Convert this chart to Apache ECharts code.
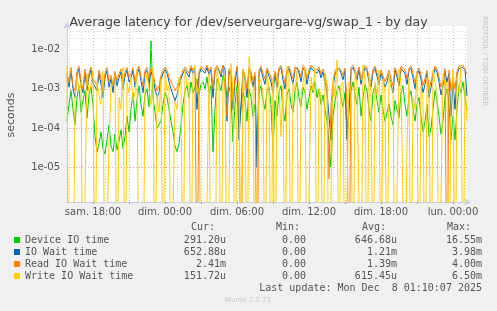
<!DOCTYPE html>
<html>
<head>
<meta charset="utf-8">
<script src="https://cdn.jsdelivr.net/npm/echarts@6/dist/echarts.min.js"></script>
<style>
html, body { margin: 0; padding: 0; background: #f0f0f0; }
#main { width: 497px; height: 311px; }
</style>
</head>
<body>
<div id="main"></div>
<script>
// one sample every 10 minutes, sam. 15:50 -> lun. 01:10 (minutes from sam. 00:00)
var startMinute = 950;
var stepMinutes = 10;

// values in microseconds, 0 = no latency
var deviceIO = [
  150, 400, 900, 300, 120, 600, 1200, 250, 500, 900, 180, 700, 1100, 400,
  60, 25, 40, 80, 30, 22, 50, 120, 35, 25, 70, 28, 45, 90, 30, 60, 200, 80,
  300, 800, 150, 500, 1200, 400, 200, 700, 1000, 350, 16550, 600, 250, 100, 90, 150, 400, 800,
  600, 300, 150, 80, 35, 25, 40, 120, 400, 900, 1200, 600, 1500, 800, 1100, 1800, 700, 1300,
  1500, 1000, 2000, 800, 1200, 25, 300, 1800, 1300, 900, 2200, 1500, 600, 1100, 700, 45, 400, 1200,
  100, 300, 800, 500, 150, 1000, 600, 200, 400, 20, 800, 1200, 500, 300, 900, 1100, 400, 25,
  500, 200, 800, 1200, 300, 150, 700, 1000, 400, 250, 900, 1500, 600, 350, 1100, 800, 300, 600,
  1200, 800, 1500, 600, 1000, 400, 700, 300, 150, 40, 10, 200, 500, 900, 1200, 600, 350, 800,
  60, 300, 900, 1500, 700, 400, 1100, 200, 600, 1300, 900, 300, 150, 800, 1200, 500, 250, 700,
  300, 150, 250, 400, 200, 120, 500, 300, 180, 800, 1200, 400, 200, 600, 900, 300, 150, 400,
  600, 200, 80, 150, 400, 60, 100, 300, 900, 500, 200, 70, 150, 600, 1000, 400, 50, 200,
  50, 300, 1200, 800, 1500, 600, 291.2
];
var ioWait = [
  2100, 1100, 2900, 1000, 600, 2300, 3300, 1200, 800, 2700, 900, 2000, 3100, 1400,
  1500, 900, 2500, 1300, 600, 2000, 2900, 1100, 1800, 800, 2300, 1200, 1900, 2700, 1000, 2100, 3000, 1500,
  1900, 3000, 1100, 2300, 3300, 1600, 800, 2500, 3000, 1400, 2700, 2000, 1000, 600, 800, 1700, 2500, 3100,
  2500, 1500, 1000, 700, 500, 700, 1200, 1800, 2500, 3100, 3300, 2000, 3400, 2500, 3000, 300, 2300, 3200,
  3000, 2500, 3500, 2300, 3100, 600, 2700, 3400, 3000, 2000, 3980, 3200, 150, 2800, 2100, 300, 1500, 3300,
  50, 400, 2700, 1700, 600, 3000, 2300, 1100, 2100, 10, 2500, 3300, 1900, 1300, 2900, 3100, 1500, 800,
  2300, 1100, 3000, 3500, 1700, 1000, 2700, 3300, 2100, 1300, 3100, 3500, 2500, 1500, 3400, 2900, 1300, 2500,
  3500, 3000, 3300, 2500, 3100, 1900, 2700, 1500, 800, 200, 50, 1100, 2300, 3000, 3400, 2500, 1700, 2900,
  50, 300, 3000, 3500, 2500, 1700, 3100, 1300, 2300, 3400, 2900, 1500, 1100, 2700, 3300, 2100, 1300, 2500,
  1700, 1100, 1500, 2500, 1300, 800, 3000, 2000, 1200, 3300, 3500, 2500, 1300, 2900, 3400, 1900, 1000, 2300,
  2900, 1700, 800, 1300, 2500, 600, 1100, 2100, 3300, 2700, 1500, 700, 1200, 2800, 1500, 2500, 200, 1500,
  300, 2300, 3300, 3000, 3500, 3100, 652.88
];
var readWait = [
  2500, 1500, 3500, 1200, 900, 2800, 3800, 1500, 1000, 3200, 1200, 2500, 3600, 1800,
  2000, 1200, 3000, 1800, 900, 2500, 3500, 1500, 2200, 1200, 2800, 1600, 2400, 3200, 1400, 2600, 3500, 2000,
  2400, 3500, 1500, 2800, 3800, 2000, 1200, 3000, 3500, 1800, 3200, 2500, 1400, 900, 1200, 2200, 3000, 3600,
  3000, 2000, 1500, 1200, 900, 1100, 1600, 2200, 3000, 3600, 3800, 2500, 3900, 3000, 3500, 0, 2800, 3700,
  3500, 3000, 4000, 2800, 3600, 1000, 3200, 3900, 3500, 2500, 4000, 3700, 200, 3300, 2600, 500, 2000, 3800,
  800, 0, 3200, 2200, 1000, 3500, 2800, 1500, 2600, 0, 3000, 3800, 2400, 1800, 3400, 3600, 2000, 1200,
  2800, 1500, 3500, 4000, 2200, 1400, 3200, 3800, 2600, 1800, 3600, 4000, 3000, 2000, 3900, 3400, 1800, 3000,
  4000, 3500, 3800, 3000, 3600, 2400, 3200, 2000, 1200, 5, 400, 1500, 2800, 3500, 3900, 3000, 2200, 3400,
  300, 0, 3500, 4000, 3000, 2200, 3600, 1800, 2800, 3900, 3400, 2000, 1500, 3200, 3800, 2600, 1800, 3000,
  2200, 1500, 2000, 3000, 1800, 1200, 3500, 2500, 1600, 3800, 4000, 3000, 1800, 3400, 3900, 2400, 1400, 2800,
  3400, 2200, 1200, 1800, 3000, 1000, 1500, 2600, 3800, 3200, 2000, 1100, 1600, 3300, 0, 3000, 900, 2000,
  1000, 2800, 3800, 3500, 4000, 3600, 2410
];
var writeWait = [
  3800, 0, 0, 0, 600, 2000, 900, 1500, 0, 0, 2500, 800, 1200, 3000,
  0, 1500, 700, 400, 2800, 0, 0, 40, 1200, 1200, 2200, 0, 600, 300, 3500, 0, 1400, 800,
  2000, 500, 800, 3200, 0, 0, 0, 1100, 2500, 1000, 400, 3500, 0, 700, 250, 1800, 0, 2800,
  900, 1200, 0, 0, 500, 300, 2000, 1500, 0, 3000, 1200, 1500, 0, 2500, 4000, 800, 1000, 0,
  0, 0, 0, 2500, 0, 0, 0, 3500, 1200, 0, 1500, 2200, 0, 0, 4500, 900, 0, 800,
  1500, 0, 3000, 1800, 0, 6500, 1400, 1200, 0, 0, 2000, 1500, 800, 0, 2500, 1100, 0, 1800,
  0, 2500, 1200, 60, 1200, 0, 3800, 2000, 0, 1500, 900, 2800, 0, 600, 1400, 3200, 0, 0,
  2000, 900, 3500, 0, 1000, 700, 0, 2500, 1300, 0, 0, 1800, 600, 5500, 0, 1200, 1500, 0,
  0, 1500, 900, 0, 2800, 1200, 1200, 0, 4000, 1600, 0, 2200, 800, 0, 1500, 700, 3000, 0,
  1800, 800, 0, 2500, 1100, 900, 0, 0, 3200, 1400, 1500, 0, 30, 2000, 0, 600, 300, 2500,
  0, 1200, 500, 0, 2000, 900, 0, 3000, 1500, 800, 0, 0, 2500, 1200, 1500, 0, 400, 3200,
  0, 2000, 800, 3500, 0, 1500, 151.72
];

var seriesNames = ['Device IO time', 'IO Wait time', 'Read IO Wait time', 'Write IO Wait time'];
var seriesColors = ['#00cc00', '#0066b3', '#ff8000', '#ffcc00'];
var curVals = ['291.20u', '652.88u', '2.41m', '151.72u'];
var minVals = ['0.00', '0.00', '0.00', '0.00'];
var avgVals = ['646.68u', '1.21m', '1.39m', '615.45u'];
var maxVals = ['16.55m', '3.98m', '4.00m', '6.50m'];

var tickMinutes = [1080, 1440, 1800, 2160, 2520, 2880];
var tickLabels = ['sam. 18:00', 'dim. 00:00', 'dim. 06:00', 'dim. 12:00', 'dim. 18:00', 'lun. 00:00'];

var chart = echarts.init(document.getElementById('main'), null, { renderer: 'canvas' });

var cats = [];
for (var i = 0; i < deviceIO.length; i++) {
  cats.push(String(startMinute + i * stepMinutes));
}

// seconds; zero is pushed far under the axis so the line drops to the bottom like rrdtool
function toSeconds(arr) {
  return arr.map(function (v) { return v === 0 ? 1e-9 : v / 1e6; });
}

var yMin = 1.3e-6, yMax = 4e-2;
var minorLines = [];
for (var d = -6; d <= -2; d++) {
  for (var k = 2; k <= 9; k++) {
    var v = k * Math.pow(10, d);
    if (v > yMin && v < yMax) minorLines.push({ yAxis: v });
  }
}

var mono = 'DejaVu Sans Mono';
var sans = 'DejaVu Sans';

var series = [{
  name: 'grid',
  type: 'line',
  data: [],
  z: 1,
  silent: true,
  markLine: {
    silent: true,
    symbol: 'none',
    label: { show: false },
    animation: false,
    lineStyle: { color: '#d4d4d4', type: [1, 2], width: 1 },
    data: minorLines
  }
}];
var raw = [deviceIO, ioWait, readWait, writeWait];
raw.forEach(function (arr, idx) {
  series.push({
    name: seriesNames[idx],
    type: 'line',
    data: toSeconds(arr),
    showSymbol: false,
    symbol: 'none',
    clip: true,
    z: 2 + idx,
    lineStyle: { width: 1, color: seriesColors[idx] },
    itemStyle: { color: seriesColors[idx] },
    animation: false
  });
});

var graphics = [
  {
    type: 'text', x: 11, y: 115, rotation: Math.PI / 2,
    style: { text: 'seconds', fill: '#555', font: '11px ' + sans, align: 'center', verticalAlign: 'middle' }
  },
  {
    type: 'text', x: 488, y: 16, rotation: -Math.PI / 2,
    style: { text: 'RRDTOOL / TOBI OETIKER', fill: '#c4c4c4', font: '7px ' + sans }
  },
  {
    type: 'text', x: 191, y: 227,
    style: { text: 'Cur:', fill: '#555', font: '10px ' + mono, verticalAlign: 'middle' }
  },
  {
    type: 'text', x: 276, y: 227,
    style: { text: 'Min:', fill: '#555', font: '10px ' + mono, verticalAlign: 'middle' }
  },
  {
    type: 'text', x: 362, y: 227,
    style: { text: 'Avg:', fill: '#555', font: '10px ' + mono, verticalAlign: 'middle' }
  },
  {
    type: 'text', x: 447, y: 227,
    style: { text: 'Max:', fill: '#555', font: '10px ' + mono, verticalAlign: 'middle' }
  },
  {
    type: 'text', x: 482, y: 288,
    style: { text: 'Last update: Mon Dec  8 01:10:07 2025', fill: '#555', font: '10px ' + mono, align: 'right', verticalAlign: 'middle' }
  },
  {
    type: 'text', x: 248, y: 300,
    style: { text: 'Munin 2.0.73', fill: '#c8c8c8', font: '7px ' + sans, align: 'center', verticalAlign: 'middle' }
  }
];

var rowY = [240, 252, 264, 276];
var colRight = [226, 306, 397, 482];
[curVals, minVals, avgVals, maxVals].forEach(function (col, c) {
  col.forEach(function (txt, r) {
    graphics.push({
      type: 'text', x: colRight[c], y: rowY[r],
      style: { text: txt, fill: '#555', font: '10px ' + mono, align: 'right', verticalAlign: 'middle' }
    });
  });
});

var option = {
  backgroundColor: '#f0f0f0',
  animation: false,
  title: {
    text: 'Average latency for /dev/serveurgare-vg/swap_1 - by day',
    left: 'center',
    top: 11,
    textStyle: { fontFamily: sans, fontSize: 12.5, fontWeight: 'normal', color: '#444' }
  },
  legend: {
    data: seriesNames,
    orient: 'vertical',
    left: 14,
    top: 234,
    padding: 0,
    itemGap: 0,
    itemWidth: 6,
    itemHeight: 6,
    icon: 'rect',
    selectedMode: false,
    textStyle: { fontFamily: mono, fontSize: 10, color: '#555', lineHeight: 12 }
  },
  grid: {
    left: 67, right: 30, top: 26, bottom: 109,
    show: true, backgroundColor: '#ffffff', borderWidth: 0
  },
  xAxis: [{
    type: 'category',
    data: cats,
    boundaryGap: false,
    position: 'bottom',
    axisLine: { show: true, lineStyle: { color: '#c8ccee', width: 1 }, symbol: ['none', 'arrow'], symbolSize: [6, 7], symbolOffset: [0, 4] },
    axisTick: { show: false },
    axisLabel: { show: false },
    splitLine: {
      show: true,
      interval: function (idx, val) { return +val % 60 === 0; },
      lineStyle: { color: '#d4d4d4', type: [1, 2], width: 1 }
    }
  }, {
    type: 'category',
    data: cats,
    boundaryGap: false,
    position: 'bottom',
    axisLine: { show: false },
    axisTick: {
      show: true, inside: false, length: 2,
      interval: function (idx, val) { return +val % 180 === 0; },
      lineStyle: { color: '#e08080' }
    },
    axisLabel: {
      show: true,
      margin: 5,
      interval: function (idx, val) { return tickMinutes.indexOf(+val) >= 0; },
      formatter: function (val) { return tickLabels[tickMinutes.indexOf(+val)] || ''; },
      fontFamily: sans, fontSize: 10, color: '#555'
    },
    splitLine: {
      show: true,
      interval: function (idx, val) { return +val % 180 === 0; },
      lineStyle: { color: '#e8a8a8', type: [1, 2], width: 1 }
    }
  }],
  yAxis: {
    type: 'log',
    logBase: 10,
    min: yMin,
    max: yMax,
    axisLine: { show: true, lineStyle: { color: '#c8ccee', width: 1 }, symbol: ['none', 'arrow'], symbolSize: [6, 7], symbolOffset: [0, 4] },
    axisTick: { show: false },
    axisLabel: {
      margin: 7,
      fontFamily: sans, fontSize: 10, color: '#555',
      showMinLabel: false, showMaxLabel: false,
      formatter: function (v) {
        var l = Math.log10(v);
        var e = Math.round(l);
        if (Math.abs(l - e) > 0.01) return '';
        var a = Math.abs(e);
        return '1e' + (e < 0 ? '-' : '+') + (a < 10 ? '0' : '') + a;
      }
    },
    splitLine: {
      show: true,
      showMinLine: false,
      showMaxLine: false,
      lineStyle: { color: '#e8a8a8', type: [1, 2], width: 1 }
    }
  },
  series: series,
  graphic: graphics
};

chart.setOption(option);
</script>
</body>
</html>
